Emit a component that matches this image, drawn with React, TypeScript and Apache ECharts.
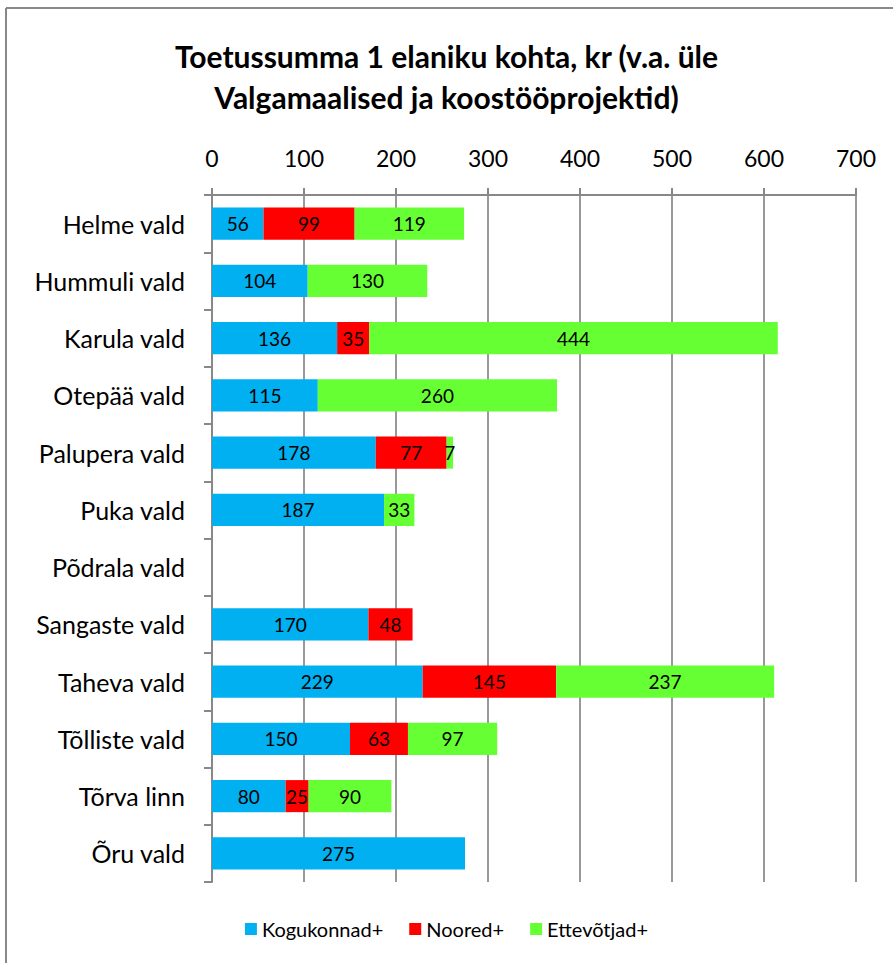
import React, { useEffect, useRef } from "react";
import * as echarts from "echarts";

const categories = [
  "Helme vald",
  "Hummuli vald",
  "Karula vald",
  "Otepää vald",
  "Palupera vald",
  "Puka vald",
  "Põdrala vald",
  "Sangaste vald",
  "Taheva vald",
  "Tõlliste vald",
  "Tõrva linn",
  "Õru vald",
];

const kogukonnad = [56, 104, 136, 115, 178, 187, null, 170, 229, 150, 80, 275];
const noored = [99, null, 35, null, 77, null, null, 48, 145, 63, 25, null];
const ettevotjad = [119, 130, 444, 260, 7, 33, null, null, 237, 97, 90, null];

const seriesNames = ["Kogukonnad+", "Noored+", "Ettevõtjad+"];
const seriesColors = ["#00B0F0", "#FF0000", "#66FF33"];
const xTicks = [0, 700, 100];

const FONT = "Lato, 'Open Sans', sans-serif";

export default function App() {
  const ref = useRef<HTMLDivElement>(null);
  useEffect(() => {
    if (!ref.current) return;
    const chart = echarts.init(ref.current, null, { renderer: "svg" });
    const data = [kogukonnad, noored, ettevotjad];
    chart.setOption({
      animation: false,
      backgroundColor: "#ffffff",
      textStyle: { fontFamily: FONT },
      title: {
        text: "Toetussumma 1 elaniku kohta, kr (v.a. üle\nValgamaalised ja koostööprojektid)",
        left: "center",
        top: 30,
        textStyle: {
          fontFamily: FONT,
          fontSize: 30,
          fontWeight: "bold",
          color: "#000",
          lineHeight: 41,
        },
      },
      legend: {
        bottom: 19,
        left: "center",
        itemWidth: 12,
        itemHeight: 12,
        itemGap: 26,
        icon: "rect",
        textStyle: { fontFamily: FONT, fontSize: 20, color: "#000" },
        data: seriesNames,
      },
      grid: { left: 212, right: 37, top: 195, bottom: 81, containLabel: false },
      xAxis: {
        type: "value",
        position: "top",
        min: xTicks[0],
        max: xTicks[1],
        interval: xTicks[2],
        axisLine: { show: true, lineStyle: { color: "#888", width: 2 } },
        axisTick: { show: true, length: 7, lineStyle: { color: "#888", width: 2 } },
        splitLine: { show: true, lineStyle: { color: "#999", width: 2 } },
        axisLabel: { fontFamily: FONT, fontSize: 23, color: "#000", margin: 26 },
      },
      yAxis: {
        type: "category",
        inverse: true,
        data: categories,
        axisLine: { show: true, lineStyle: { color: "#888", width: 2 } },
        axisTick: { show: true, length: 8, lineStyle: { color: "#888", width: 2 } },
        axisLabel: { fontFamily: FONT, fontSize: 25, color: "#000", margin: 27 },
      },
      graphic: [
        {
          type: "line",
          shape: { x1: 6, y1: 8, x2: 893, y2: 8 },
          style: { stroke: "#888", lineWidth: 2 },
        },
        {
          type: "line",
          shape: { x1: 6, y1: 8, x2: 6, y2: 963 },
          style: { stroke: "#888", lineWidth: 2 },
        },
      ],
      series: seriesNames.map((name, i) => ({
        name,
        type: "bar",
        stack: "total",
        barCategoryGap: "44%",
        data: data[i],
        itemStyle: { color: seriesColors[i] },
        label: {
          show: true,
          position: "inside",
          fontFamily: FONT,
          fontSize: 19,
          color: "#000",
          formatter: (p: any) => (p.value ? String(p.value) : ""),
        },
      })),
    });
    return () => chart.dispose();
  }, []);
  return (
    <div
      ref={ref}
      style={{ position: "absolute", left: 0, top: 0, width: 893, height: 963 }}
    />
  );
}
